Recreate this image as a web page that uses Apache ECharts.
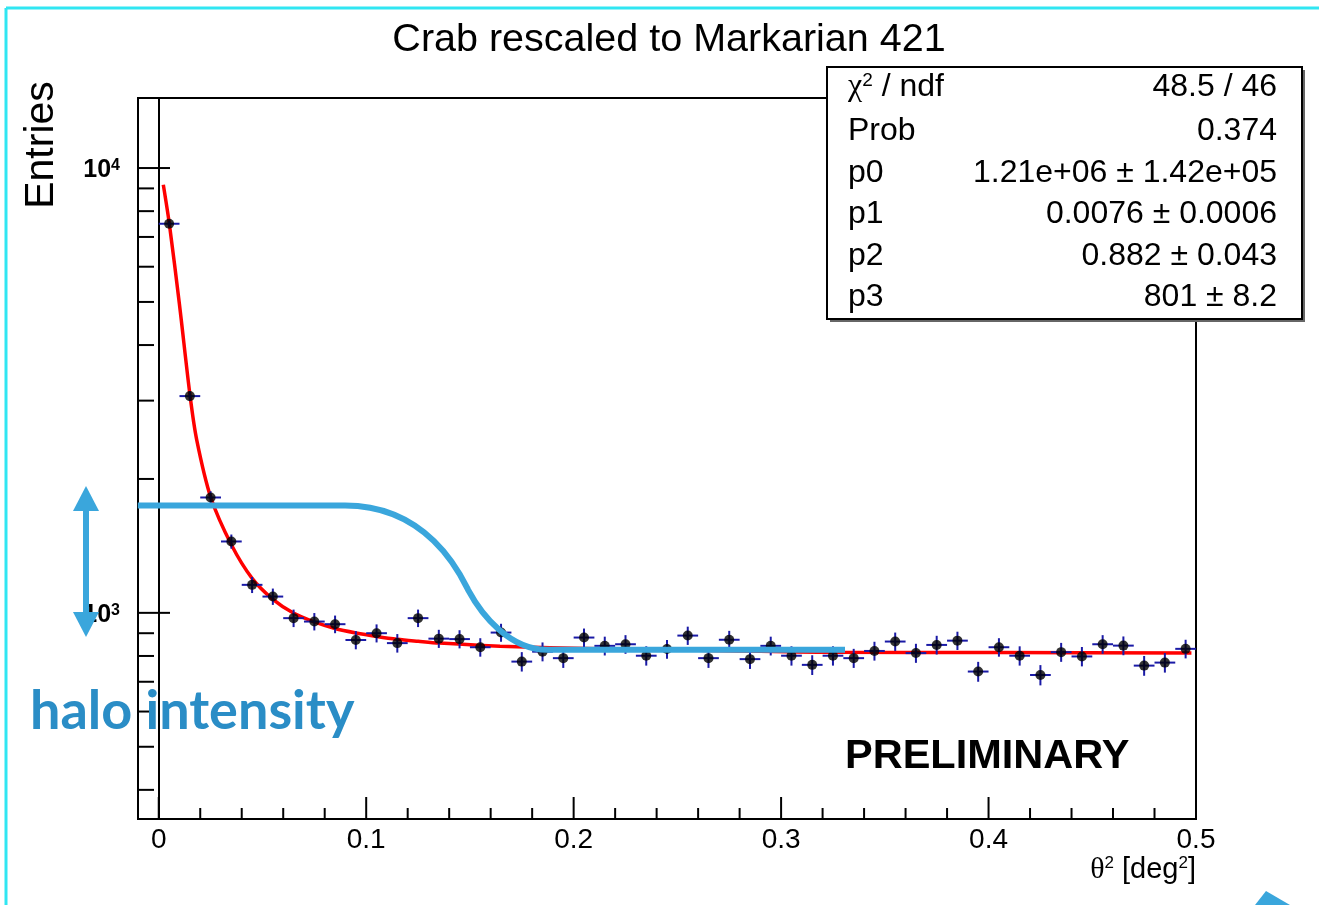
<!DOCTYPE html>
<html><head><meta charset="utf-8">
<script src="https://cdn.jsdelivr.net/npm/echarts@6/dist/echarts.min.js"></script>
<style>html,body{margin:0;padding:0;background:#fff}#c{width:1319px;height:905px}</style>
</head><body><div id="c"></div><script>
// ---- data ----
const binCenters = [0.005,0.015,0.025,0.035,0.045,0.055,0.065,0.075,0.085,0.095,
  0.105,0.115,0.125,0.135,0.145,0.155,0.165,0.175,0.185,0.195,
  0.205,0.215,0.225,0.235,0.245,0.255,0.265,0.275,0.285,0.295,
  0.305,0.315,0.325,0.335,0.345,0.355,0.365,0.375,0.385,0.395,
  0.405,0.415,0.425,0.435,0.445,0.455,0.465,0.475,0.485,0.495];
const entries = [7495,3071,1817,1447,1156,1088,973,956,943,869,
  900,855,973,875,873,837,903,777,818,791,
  880,843,850,801,829,889,791,870,787,843,
  801,764,801,791,821,862,812,847,866,738,
  837,801,725,816,798,850,844,761,773,830];
const entryErrors = [121,78,60,53,48,46,44,43,43,41,
  42,41,44,41,41,40,42,39,40,39,
  42,41,41,40,40,42,39,41,39,41,
  40,39,40,39,40,41,40,41,41,38,
  40,40,38,40,40,41,41,39,39,40];
// red fit curve, sampled along the drawn line
const fitX = [0.0022,0.0051,0.0100,0.0151,0.0183,0.0251,0.0352,0.0451,0.0552,0.0649,0.0750,0.0850,0.0951,0.1051,0.1150,0.1251,0.1352,0.1645,0.2127,0.2609,0.3250,0.4055,0.4978];
const fitY = [9172,7494,4927,3076,2449,1817,1417,1194,1071,999,954,922,901,885,872,863,855,841,830,824,815,814,812];
// hand-drawn "halo" annotation curve: start, flat end, two cubic segments, flat end
const haloCmd = ['M','L','C','C','L'];
const haloX = [-0.0101,0.0898, 0.1307,0.1462,0.1491, 0.1558,0.1693,0.1871, 0.3308];
const haloY = [1743,1743, 1743,1199,1126, 985,826,826, 826];
const xTickLabels = [0,0.1,0.2,0.3,0.4,0.5];
const xMinorTicks = [0.02,0.04,0.06,0.08,0.12,0.14,0.16,0.18,0.22,0.24,0.26,0.28,0.32,0.34,0.36,0.38,0.42,0.44,0.46,0.48];
const yMajorTicks = [1000,10000];
const yMajorExp = ['3','4'];
const yMinorTicks = [400,500,600,700,800,900,2000,3000,4000,5000,6000,7000,8000,9000];
const statsNames = ['{g|χ}{s|2}{n| / ndf}','Prob','p0','p1','p2','p3'];
const statsValues = ['48.5 / 46','0.374','1.21e+06 ± 1.42e+05','0.0076 ± 0.0006','0.882 ± 0.043','801 ± 8.2'];

const X_MIN = -0.01, X_MAX = 0.5, Y_MIN = 344, Y_MAX = 14370;
const FONT = 'Liberation Sans, Arial, sans-serif';
const HALO_BLUE = '#3aa6dc';

// tick table for the custom series
const tickData = [], tickKind = [];
xTickLabels.forEach(v => { tickData.push([v, Y_MIN]); tickKind.push('xM'); });
xMinorTicks.forEach(v => { tickData.push([v, Y_MIN]); tickKind.push('xm'); });
yMajorTicks.forEach((v,i) => { tickData.push([X_MIN, v]); tickKind.push('yM' + i); });
yMinorTicks.forEach(v => { tickData.push([X_MIN, v]); tickKind.push('ym'); });

const chart = echarts.init(document.getElementById('c'), null, {renderer: 'canvas'});

const statsTop = 67, statsLeft = 827, statsW = 475, statsH = 252;
const rowY = [87, 131, 173, 214, 256, 297];
const statsEls = [];
statsEls.push({type:'rect', shape:{x:statsLeft+3, y:statsTop+3, width:statsW, height:statsH}, style:{fill:'#666'}, z:100});
statsEls.push({type:'rect', shape:{x:statsLeft, y:statsTop, width:statsW, height:statsH}, style:{fill:'#fff', stroke:'#000', lineWidth:2}, z:101});
statsNames.forEach((t,i) => {
  statsEls.push({type:'text', x:848, y:rowY[i], z:102, style:{text:t, font:'32px ' + FONT, fill:'#000', align:'left', verticalAlign:'middle',
    rich:{g:{fontFamily:'Liberation Serif', fontSize:32}, s:{fontSize:19, verticalAlign:'top', fontFamily:FONT}, n:{fontSize:32, fontFamily:FONT}}}});
});
statsValues.forEach((t,i) => {
  statsEls.push({type:'text', x:1277, y:rowY[i], z:102, style:{text:t, font:'32px ' + FONT, fill:'#000', align:'right', verticalAlign:'middle'}});
});

const option = {
  backgroundColor: '#fff',
  animation: false,
  grid: {left:138, right:123, top:98, bottom:86, show:true, borderColor:'#000', borderWidth:2, backgroundColor:'transparent'},
  xAxis: {
    type:'value', min:X_MIN, max:X_MAX,
    axisLine:{show:true, onZero:false, lineStyle:{color:'#000', width:2}},
    axisTick:{show:false}, splitLine:{show:false},
    axisLabel:{customValues:xTickLabels, formatter: v => String(v), fontSize:28, color:'#000', fontFamily:FONT, margin:7}
  },
  yAxis: {
    type:'log', logBase:10, min:Y_MIN, max:Y_MAX,
    axisLine:{show:true, lineStyle:{color:'#000', width:2}},
    axisTick:{show:false}, axisLabel:{show:false}, splitLine:{show:false}, minorTick:{show:false}
  },
  series: [
    {
      type:'custom', name:'ticks', z:3, silent:true,
      data: tickData,
      renderItem: (params, api) => {
        const k = tickKind[params.dataIndex];
        const p = api.coord([api.value(0), api.value(1)]);
        if (k === 'xM' || k === 'xm') {
          const len = k === 'xM' ? 22 : 11;
          return {type:'line', shape:{x1:p[0], y1:p[1], x2:p[0], y2:p[1]-len}, style:{stroke:'#000', lineWidth:2}};
        }
        if (k === 'ym') {
          return {type:'line', shape:{x1:p[0], y1:p[1], x2:p[0]+16, y2:p[1]}, style:{stroke:'#000', lineWidth:2}};
        }
        const idx = +k.slice(2);
        return {type:'group', children:[
          {type:'line', shape:{x1:p[0], y1:p[1], x2:p[0]+32, y2:p[1]}, style:{stroke:'#000', lineWidth:2}},
          {type:'text', x:p[0]-18, y:p[1]+2, style:{text:'{b|10}{s|' + yMajorExp[idx] + '}', align:'right', verticalAlign:'middle', fill:'#000',
            rich:{b:{fontSize:25, fontWeight:'bold', fontFamily:FONT}, s:{fontSize:16, fontWeight:'bold', fontFamily:FONT, verticalAlign:'top'}}}}
        ]};
      }
    },
    {
      type:'line', name:'fit', z:4, smooth:0.3, symbol:'none', silent:true,
      data: fitX.map((x,i) => [x, fitY[i]]),
      lineStyle:{color:'#ff0000', width:3.5}
    },
    {
      type:'custom', name:'errors', z:5, silent:true,
      data: binCenters.map((x,i) => [x, entries[i], entryErrors[i]]),
      renderItem: (params, api) => {
        const x = api.value(0), y = api.value(1), e = api.value(2);
        const l = api.coord([x-0.005, y]), r = api.coord([x+0.005, y]);
        const t = api.coord([x, y+e]), b = api.coord([x, y-e]);
        return {type:'group', children:[
          {type:'line', shape:{x1:l[0], y1:l[1], x2:r[0], y2:r[1]}, style:{stroke:'#1a1aa6', lineWidth:2}},
          {type:'line', shape:{x1:t[0], y1:t[1], x2:b[0], y2:b[1]}, style:{stroke:'#1a1aa6', lineWidth:2}}
        ]};
      }
    },
    {
      type:'scatter', name:'entries', z:6, symbol:'circle', symbolSize:10, silent:true,
      data: binCenters.map((x,i) => [x, entries[i]]),
      itemStyle:{color:'#000'}
    },
    {
      type:'custom', name:'halo', z:8, silent:true,
      data: [[haloX[0], haloY[0]]],
      renderItem: (params, api) => {
        const pts = haloX.map((x,i) => api.coord([x, haloY[i]]));
        let d = '', j = 0;
        haloCmd.forEach(c => {
          const n = c === 'C' ? 3 : 1;
          d += c + ' ' + pts.slice(j, j+n).map(p => p[0].toFixed(1) + ' ' + p[1].toFixed(1)).join(' ') + ' ';
          j += n;
        });
        return {type:'path', shape:{pathData:d}, style:{stroke:HALO_BLUE, lineWidth:6, fill:null, lineJoin:'round'}};
      }
    }
  ],
  graphic: [
    {type:'line', shape:{x1:6, y1:8, x2:1319, y2:8}, style:{stroke:'#30e6f2', lineWidth:3}, z:100},
    {type:'line', shape:{x1:6, y1:8, x2:6, y2:905}, style:{stroke:'#30e6f2', lineWidth:3}, z:100},
    {type:'text', x:669, y:40, z:100, style:{text:'Crab rescaled to Markarian 421', font:'39.5px ' + FONT, fill:'#000', align:'center', verticalAlign:'middle'}},
    {type:'text', x:42, y:145, rotation:Math.PI/2, z:100, style:{text:'Entries', font:'41px ' + FONT, fill:'#000', align:'center', verticalAlign:'middle'}},
    ...statsEls,
    {type:'text', x:845, y:757, z:100, style:{text:'PRELIMINARY', font:'bold 41.5px ' + FONT, fill:'#000', align:'left', verticalAlign:'middle'}},
    {type:'text', x:1196, y:870, z:100, style:{text:'{g|θ}{s|2}{n| [deg}{s|2}{n|]}', align:'right', verticalAlign:'middle', fill:'#000',
      rich:{g:{fontFamily:'Liberation Serif', fontSize:30}, s:{fontSize:17, fontFamily:FONT, verticalAlign:'top'}, n:{fontSize:29, fontFamily:FONT}}}},
    {type:'text', x:30, y:712, z:100, style:{text:'halo intensity', font:'bold 54px Lato, sans-serif', fill:'#2a8dc6', align:'left', verticalAlign:'middle'}},
    {type:'line', shape:{x1:86, y1:505, x2:86, y2:618}, style:{stroke:HALO_BLUE, lineWidth:6}, z:110},
    {type:'polygon', shape:{points:[[86,486],[73,511],[99,511]]}, style:{fill:HALO_BLUE}, z:110},
    {type:'polygon', shape:{points:[[86,637],[73,612],[99,612]]}, style:{fill:HALO_BLUE}, z:110},
    {type:'polygon', shape:{points:[[1255,905],[1266,891],[1290,905]]}, style:{fill:HALO_BLUE}, z:110}
  ]
};
chart.setOption(option);
</script></body></html>
